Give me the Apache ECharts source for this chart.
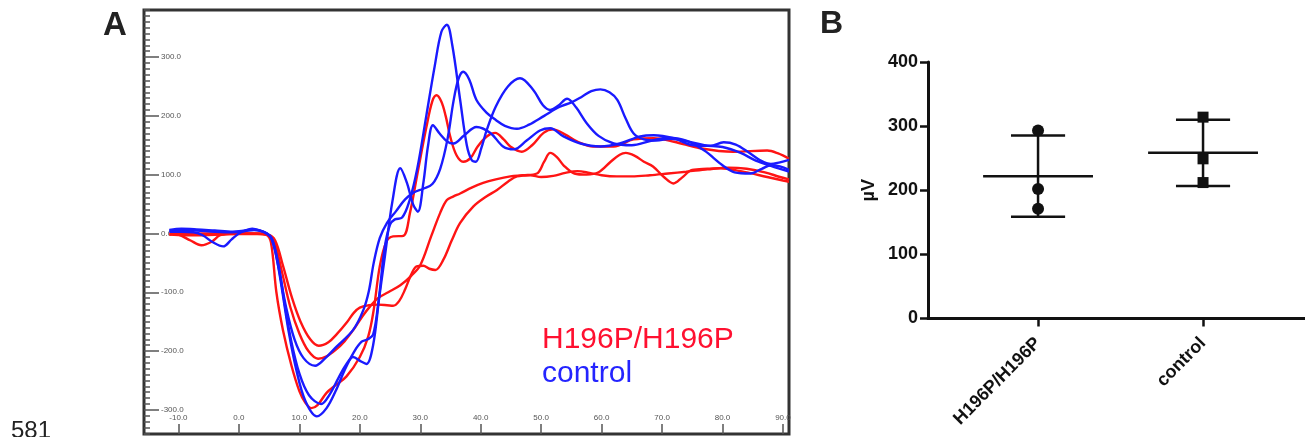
<!DOCTYPE html>
<html><head><meta charset="utf-8">
<script src="https://cdn.jsdelivr.net/npm/echarts@6/dist/echarts.min.js"></script>
<style>html,body{margin:0;padding:0;background:#fff}#c{width:1305px;height:437px}</style>
</head><body><div id="c"></div>
<script>
// ---------- Panel A data (time ms, amplitude) ----------
const xTickVals = [-10, 0, 10, 20, 30, 40, 50, 60, 70, 80, 90];
const yMajorVals = [-300, -200, -100, 0, 100, 200, 300];
const yMinorVals = [];
for (let v = -340; v <= 380; v += 10) yMinorVals.push(v);

const redD = [[-11.5,-1],[-9,-1],[-6,0],[-3,0],[0,0],[3,0],[4.5,-2],[5.3,-15],[6.2,-100],[7.3,-165],[8.7,-225],[10,-268],[11,-288],[12,-297],[13,-292],[14.5,-271],[16,-258],[17.8,-243],[20,-210],[21.4,-175],[22.3,-130],[23.3,-56],[24.4,-14],[25.5,-5],[27.2,-4],[28.3,35],[29.5,100],[31,180],[32,225],[32.7,235],[33.5,224],[34.2,200],[35,163],[36,133],[37.1,122],[38.3,128],[39.5,148],[41,165],[42.4,171],[43.8,160],[44.9,148],[46.8,139],[48.5,150],[50.4,171],[52,177],[54,168],[56,156],[58.6,148],[62,148],[65.3,160],[68.6,162],[72,156],[76.3,145],[81.8,139],[87.4,141],[89.2,136],[91,127]];
const redB = [[-11.5,-2],[-9,-3],[-6,-3],[-3,-2],[0,-1],[3,-1],[4.8,-3],[5.8,-12],[7,-60],[8.5,-125],[10,-170],[11.5,-200],[13.1,-213],[14.5,-209],[16,-198],[17.5,-183],[19,-163],[20.5,-140],[21.7,-124],[23,-110],[24.7,-100],[26.7,-88],[28.5,-72],[30,-54],[31.8,-5],[33.3,35],[34.4,57],[35.5,63],[36.6,68],[38.5,78],[40.4,86],[42.5,92],[44.9,97],[47,99],[49.3,102],[50.5,122],[51.5,137],[52.6,130],[53.7,116],[55.5,102],[57.5,100],[59.5,104],[61.5,122],[63,134],[64,137],[65.5,132],[67,122],[68.5,114],[70.3,96],[71.9,85],[73.3,95],[75,108],[77.5,110],[79.6,111],[83,106],[87.4,96],[90,90],[91,88]];
const redA = [[-11.5,0],[-10,-2],[-8,-12],[-6.2,-20],[-4.5,-14],[-3.1,-3],[-1,0],[2,0],[4.8,-2],[6,-12],[7.3,-55],[8.8,-110],[10.2,-150],[11.8,-180],[13.2,-191],[14.8,-185],[16.3,-170],[17.8,-152],[19,-135],[20,-126],[21.5,-122],[23,-121],[24.5,-122],[25.5,-123],[26.5,-115],[27.5,-95],[28.5,-70],[29.4,-56],[30.5,-55],[31.5,-60],[32.5,-62],[33.8,-45],[35.2,-12],[36.6,18],[38.8,46],[40.8,62],[42.7,74],[44.5,88],[46,97],[48.2,99],[50,96],[52,98],[54,103],[56,106],[58,103],[60,99],[62.5,97],[65,97],[68,99],[71,102],[74,105],[77.5,109],[81,112],[84,110],[87,104],[89.5,96],[91,92]];
const blueT = [[-11.5,5],[-9.5,6],[-7,5],[-4,3],[-1,2],[1,4],[2.5,6],[4,3],[5.2,-5],[6.2,-40],[7.2,-100],[8.2,-165],[9.5,-232],[11,-285],[12.9,-311],[14.5,-297],[16,-268],[17.5,-232],[19,-202],[20.3,-184],[21.3,-180],[22.2,-172],[23.1,-115],[24.1,-25],[25,15],[25.8,24],[27,27],[28.2,55],[29.5,110],[31,200],[32.4,285],[33.5,343],[34.4,355],[35.3,320],[36.6,227],[37.7,150],[38.5,125],[39.2,122],[40.1,145],[41,176],[42.5,216],[44.5,250],[46.5,264],[48.7,244],[50.3,218],[51.5,210],[52.8,217],[54.3,229],[55.8,214],[57.5,188],[59.5,166],[62,153],[65,150],[68,157],[71,163],[74,158],[77,141],[80,116],[82,104],[84.6,102],[86.5,110],[88,116],[89.5,114],[91,108]];
const blueQ = [[-11.5,3],[-9.5,3],[-7.5,2],[-6,-3],[-4.3,-15],[-2.6,-22],[-1.2,-10],[0,0],[1,5],[2.2,8],[3.5,5],[4.6,0],[5.5,-10],[6.6,-60],[7.8,-125],[9.2,-180],[10.7,-212],[12.6,-225],[14.3,-212],[16.2,-192],[18.9,-164],[20.6,-130],[21.5,-98],[22.3,-50],[23.3,-8],[24.5,18],[26,38],[27.5,58],[29,70],[30.5,76],[32,84],[33.3,110],[34.5,160],[35.5,225],[36.3,262],[37.1,275],[38.1,262],[39.3,227],[41,205],[42.5,193],[44,183],[46,178],[48,185],[50.5,200],[53,215],[55,223],[56.8,233],[58.3,242],[59.8,245],[61.3,240],[62.6,227],[64,195],[65.3,170],[67,160],[69,158],[71.5,161],[74,157],[77,150],[80,147],[83,137],[85.5,124],[88,115],[91,105]];
const blueS = [[-11.5,6],[-9.5,8],[-7,7],[-4,5],[-1,3],[1,5],[2.5,7],[4.2,2],[5.4,-8],[6.5,-50],[7.5,-115],[8.6,-180],[10,-238],[11.6,-275],[13.6,-290],[15,-274],[16.5,-245],[17.8,-222],[18.9,-210],[20.1,-217],[21.1,-222],[22.2,-190],[23.2,-110],[24.2,-35],[25.4,55],[26.7,111],[27.8,86],[28.8,50],[29.6,37],[30.5,85],[31.3,150],[32.1,184],[33.2,170],[34.5,156],[35.5,153],[37.2,166],[39.3,181],[41.6,171],[43.7,148],[45.5,143],[47.6,158],[49.8,175],[51.5,179],[53.7,165],[56.5,153],[59.8,148],[63,153],[66.4,165],[68.6,167],[71.9,162],[75.2,150],[78,149],[80.2,155],[82.2,151],[84.3,138],[86.3,124],[88,118],[89.5,121],[91,125]];

// ---------- Panel B data (µV) ----------
const groups = ['H196P/H196P', 'control'];
const h196pVals = [293, 202, 171];
const controlVals = [314, 249, 212];

function meanSd(a) {
  const m = a.reduce((s, v) => s + v, 0) / a.length;
  const sd = Math.sqrt(a.reduce((s, v) => s + (v - m) * (v - m), 0) / (a.length - 1));
  return [m, sd];
}
const stats = [[1, ...meanSd(h196pVals)], [2, ...meanSd(controlVals)]];

const RED = '#ff1414', BLUE = '#1a1aff';
const FONT = 'Liberation Sans, Arial, sans-serif';

function trace(data, color) {
  return { type: 'line', xAxisIndex: 0, yAxisIndex: 0, data: data, smooth: 0.35,
    showSymbol: false, lineStyle: { color: color, width: 2.4 }, z: 3, silent: true };
}

const chart = echarts.init(document.getElementById('c'));
chart.setOption({
  animation: false,
  grid: [
    { left: 144, top: 10, width: 645, height: 424, show: true, borderColor: '#333', borderWidth: 3, backgroundColor: 'transparent' },
    { left: 928, top: 62, right: 0, bottom: 118.5 }
  ],
  xAxis: [
    { gridIndex: 0, type: 'value', min: -15.7, max: 91, position: 'bottom',
      axisLine: { show: false, onZero: false }, splitLine: { show: false },
      axisTick: { show: true, inside: true, length: 10, customValues: xTickVals, lineStyle: { color: '#555', width: 1.5 } },
      axisLabel: { inside: true, margin: 12, customValues: xTickVals, formatter: v => v.toFixed(1), fontSize: 8, color: '#555', fontFamily: FONT } },
    { gridIndex: 1, type: 'value', min: 0.333, max: 2.618, position: 'bottom',
      axisLine: { show: true, onZero: false, lineStyle: { color: '#111', width: 3 } }, splitLine: { show: false },
      axisTick: { show: true, length: 8, customValues: [1, 2], lineStyle: { color: '#111', width: 2.5 } },
      axisLabel: { customValues: [1, 2], formatter: v => groups[Math.round(v) - 1], rotate: 45, margin: 22,
        fontSize: 18, fontWeight: 'bold', color: '#111', fontFamily: FONT } }
  ],
  yAxis: [
    { gridIndex: 0, type: 'value', min: -341, max: 380, position: 'left', axisLine: { show: false, onZero: false }, splitLine: { show: false },
      axisTick: { show: true, inside: true, length: 6, customValues: yMinorVals, lineStyle: { color: '#555', width: 1.5 } },
      axisLabel: { show: false } },
    { gridIndex: 0, type: 'value', min: -341, max: 380, position: 'left', offset: 0, axisLine: { show: false, onZero: false }, splitLine: { show: false },
      axisTick: { show: true, inside: true, length: 15, customValues: yMajorVals, lineStyle: { color: '#555', width: 1.5 } },
      axisLabel: { inside: true, margin: 17, customValues: yMajorVals, formatter: v => v.toFixed(1), fontSize: 8, color: '#555', fontFamily: FONT } },
    { gridIndex: 1, type: 'value', min: 0, max: 400, interval: 100, position: 'left',
      axisLine: { show: true, onZero: false, lineStyle: { color: '#111', width: 3 } }, splitLine: { show: false },
      axisTick: { show: true, length: 8, lineStyle: { color: '#111', width: 2.5 } },
      axisLabel: { margin: 10, fontSize: 18, fontWeight: 'bold', color: '#111', fontFamily: FONT },
      name: 'µV', nameLocation: 'middle', nameRotate: 90, nameGap: 50,
      nameTextStyle: { fontSize: 18, fontWeight: 'bold', color: '#111', fontFamily: FONT } }
  ],
  series: [
    trace(redA, RED), trace(redB, RED), trace(redD, RED),
    trace(blueT, BLUE), trace(blueQ, BLUE), trace(blueS, BLUE),
    { type: 'custom', xAxisIndex: 1, yAxisIndex: 2, data: stats, z: 2, silent: true,
      renderItem: function (params, api) {
        const x = api.value(0), m = api.value(1), s = api.value(2);
        const st = { stroke: '#111', lineWidth: 2.5 };
        const L = (a, b) => ({ type: 'line', shape: { x1: a[0], y1: a[1], x2: b[0], y2: b[1] }, style: st });
        return { type: 'group', children: [
          L(api.coord([x - 0.333, m]), api.coord([x + 0.333, m])),
          L(api.coord([x, m - s]), api.coord([x, m + s])),
          L(api.coord([x - 0.164, m + s]), api.coord([x + 0.164, m + s])),
          L(api.coord([x - 0.164, m - s]), api.coord([x + 0.164, m - s]))
        ] };
      } },
    { type: 'scatter', xAxisIndex: 1, yAxisIndex: 2, symbol: 'circle', symbolSize: 12, z: 4,
      itemStyle: { color: '#111', opacity: 1 }, data: h196pVals.map(v => [1, v]) },
    { type: 'scatter', xAxisIndex: 1, yAxisIndex: 2, symbol: 'rect', symbolSize: 11, z: 4,
      itemStyle: { color: '#111', opacity: 1 }, data: controlVals.map(v => [2, v]) }
  ],
  graphic: [
    { type: 'text', left: 103, top: 9, style: { text: 'A', font: 'bold 33px ' + FONT, fill: '#222' } },
    { type: 'text', left: 820, top: 8, style: { text: 'B', font: 'bold 32px ' + FONT, fill: '#222' } },
    { type: 'text', left: 11, top: 419, style: { text: '581', font: '24px ' + FONT, fill: '#222' } },
    { type: 'text', left: 542, top: 325, style: { text: 'H196P/H196P', font: '30px ' + FONT, fill: '#ff1030' } },
    { type: 'text', left: 542, top: 359, style: { text: 'control', font: '30px ' + FONT, fill: '#2424ff' } }
  ]
});
</script></body></html>
